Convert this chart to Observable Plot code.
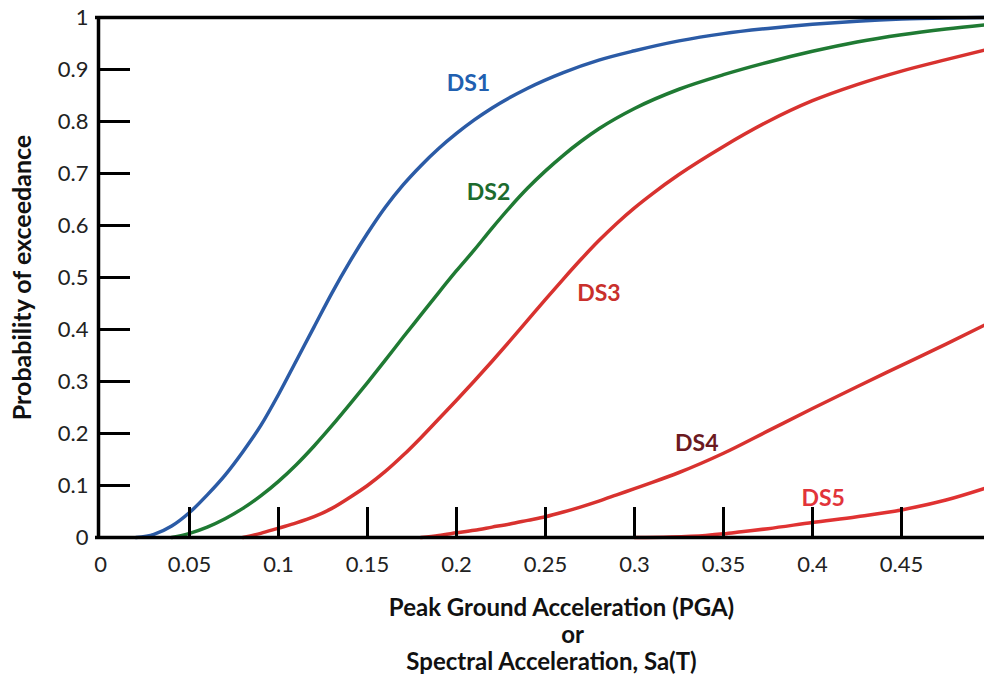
<!DOCTYPE html>
<html><head><meta charset="utf-8">
<script src="https://cdn.jsdelivr.net/npm/d3@7"></script>
<script src="https://cdn.jsdelivr.net/npm/@observablehq/plot@0.6"></script>
<style>
html,body{margin:0;padding:0;background:#fff;overflow:hidden;}
svg{font-family:Lato,"Open Sans",sans-serif;}
</style></head><body><div id="chart"></div>
<script>
// Fragility curves: [spectral acceleration, probability of exceedance]
const ds1 = [[0.02,0],[0.03,0.006],[0.04,0.022],[0.05,0.048],[0.06,0.082],[0.07,0.12],[0.08,0.165],[0.09,0.215],[0.10,0.275],[0.11,0.34],[0.12,0.405],[0.13,0.47],[0.14,0.53],[0.15,0.585],[0.16,0.635],[0.17,0.678],[0.18,0.715],[0.19,0.748],[0.20,0.777],[0.21,0.803],[0.22,0.826],[0.24,0.864],[0.26,0.894],[0.28,0.918],[0.30,0.936],[0.325,0.955],[0.35,0.969],[0.375,0.979],[0.40,0.987],[0.425,0.993],[0.45,0.997],[0.475,0.999],[0.50,1.0]];
const ds2 = [[0.04,0],[0.05,0.008],[0.06,0.02],[0.07,0.036],[0.08,0.056],[0.09,0.08],[0.10,0.108],[0.11,0.14],[0.12,0.176],[0.13,0.215],[0.14,0.256],[0.15,0.298],[0.16,0.341],[0.17,0.385],[0.18,0.428],[0.19,0.471],[0.20,0.513],[0.21,0.553],[0.22,0.595],[0.23,0.635],[0.24,0.672],[0.25,0.705],[0.26,0.735],[0.27,0.762],[0.28,0.786],[0.30,0.825],[0.325,0.862],[0.35,0.89],[0.375,0.914],[0.40,0.935],[0.425,0.953],[0.45,0.967],[0.475,0.978],[0.50,0.987]];
const ds3 = [[0.08,0],[0.09,0.008],[0.10,0.018],[0.11,0.028],[0.12,0.04],[0.13,0.056],[0.14,0.077],[0.15,0.10],[0.16,0.127],[0.17,0.158],[0.18,0.192],[0.19,0.228],[0.20,0.264],[0.21,0.301],[0.22,0.339],[0.23,0.378],[0.24,0.418],[0.25,0.458],[0.26,0.497],[0.27,0.535],[0.28,0.571],[0.29,0.604],[0.30,0.634],[0.31,0.661],[0.325,0.698],[0.35,0.752],[0.375,0.80],[0.40,0.84],[0.425,0.871],[0.45,0.897],[0.475,0.919],[0.50,0.94]];
const ds4 = [[0.18,0],[0.19,0.004],[0.20,0.009],[0.21,0.014],[0.22,0.02],[0.23,0.026],[0.24,0.033],[0.25,0.04],[0.26,0.049],[0.27,0.059],[0.28,0.07],[0.29,0.082],[0.30,0.094],[0.31,0.106],[0.325,0.125],[0.35,0.162],[0.375,0.205],[0.40,0.248],[0.425,0.29],[0.45,0.331],[0.475,0.372],[0.50,0.414]];
const ds5 = [[0.30,0],[0.32,0.001],[0.34,0.004],[0.35,0.007],[0.36,0.011],[0.375,0.017],[0.40,0.029],[0.425,0.04],[0.45,0.053],[0.475,0.072],[0.50,0.098]];

const seriesNames = ["DS1","DS2","DS3","DS4","DS5"];
const labelX = [0.2067,0.218,0.280,0.335,0.406];
const labelY = [0.873,0.663,0.469,0.181,0.075];

const xTicks = [0,0.05,0.1,0.15,0.2,0.25,0.3,0.35,0.4,0.45];
const yTicks = [0,0.1,0.2,0.3,0.4,0.5,0.6,0.7,0.8,0.9,1];

const xTitle = ["Peak Ground Acceleration (PGA)","or","Spectral Acceleration, Sa(T)"];
const yTitle = "Probability of exceedance";

const lineColors = ["#2b5ba6","#1f7a33","#d8322f","#d8322f","#e03232"];
const labelColors = ["#2160b0","#1d6b2e","#c9302c","#6b1a1f","#e2343a"];

const series = [ds1,ds2,ds3,ds4,ds5];
const labels = seriesNames.map((s,i)=>({s, x:labelX[i], y:labelY[i], c:labelColors[i]}));

const titleStyle = {frameAnchor: "bottom", lineAnchor: "middle", textAnchor: "middle", fontSize: 24, fontWeight: "bold", fill: "#111"};

const plot = Plot.plot({
  width: 984, height: 687,
  marginLeft: 100, marginRight: 0, marginTop: 17, marginBottom: 150,
  x: {domain: [0, 0.5], range: [100, 990]},
  y: {domain: [0, 1]},
  style: {background: "#fff", overflow: "hidden"},
  marks: [
    ...series.map((d,i) => Plot.line(d, {x: "0", y: "1", stroke: lineColors[i], strokeWidth: 3.5, curve: "monotone-x"})),
    Plot.ruleY([0, 1], {stroke: "#000", strokeWidth: 3.5, insetLeft: -5}),
    Plot.ruleX([0], {stroke: "#000", strokeWidth: 3.5, dx: -2}),
    Plot.tickX(xTicks.filter(d => d > 0), {x: d => d, stroke: "#000", strokeWidth: 3, insetTop: 490}),
    Plot.tickY(yTicks.filter(d => d > 0 && d < 1), {y: d => d, stroke: "#000", strokeWidth: 3, insetRight: 854}),
    Plot.axisX({ticks: xTicks, tickSize: 0, tickPadding: 19, tickFormat: d => String(d), fontSize: 22, fill: "#222", label: null}),
    Plot.axisY({ticks: yTicks, tickSize: 0, tickPadding: 12, tickFormat: d => String(d), fontSize: 22, fill: "#222", label: null}),
    Plot.text(labels, {x: "x", y: "y", text: "s", fill: "c", fontSize: 23, fontWeight: "bold"}),
    Plot.text([yTitle], {frameAnchor: "left", textAnchor: "middle", lineAnchor: "middle", dx: -78, rotate: -90, fontSize: 25, fontWeight: "bold", fill: "#111"}),
    Plot.text([xTitle[0]], {...titleStyle, dx: 19, dy: 71}),
    Plot.text([xTitle[1]], {...titleStyle, dx: 30, dy: 98}),
    Plot.text([xTitle[2]], {...titleStyle, dx: 9, dy: 125})
  ]
});
document.getElementById("chart").appendChild(plot);
</script></body></html>
